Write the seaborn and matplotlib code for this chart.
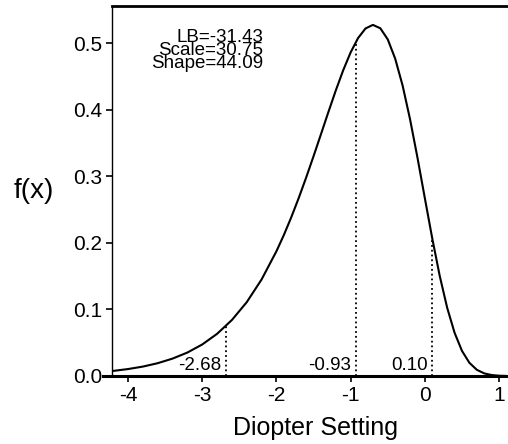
import matplotlib
matplotlib.use("Agg")
import matplotlib.pyplot as plt
import seaborn as sns
import pandas as pd

# curve values (diopter setting vs density)
diopter = [-4.2, -4.0, -3.8, -3.6, -3.4, -3.2, -3.0, -2.8, -2.6, -2.4,
           -2.2, -2.0, -1.9, -1.8, -1.7, -1.6, -1.5, -1.4, -1.3, -1.2,
           -1.1, -1.0, -0.9, -0.8, -0.7, -0.6, -0.5, -0.4, -0.3, -0.2,
           -0.1, 0.0, 0.1, 0.2, 0.3, 0.4, 0.5, 0.6, 0.7, 0.8,
           0.9, 1.0, 1.1]
density = [0.0076, 0.0104, 0.0141, 0.0192, 0.0261, 0.0352, 0.0473, 0.0633, 0.0841, 0.1109,
           0.1450, 0.1874, 0.2118, 0.2385, 0.2673, 0.2980, 0.3302, 0.3633, 0.3966, 0.4291,
           0.4595, 0.4863, 0.5078, 0.5222, 0.5276, 0.5225, 0.5058, 0.4769, 0.4365, 0.3860,
           0.3283, 0.2670, 0.2064, 0.1505, 0.1027, 0.0650, 0.0377, 0.0198, 0.0093, 0.0039,
           0.0014, 0.0004, 0.0001]

# marked percentiles
marker_x = [-2.68, -0.93, 0.10]
marker_f = [0.075, 0.500, 0.206]
marker_labels = ["-2.68", "-0.93", "0.10"]

param_lines = ["LB=-31.43", "Scale=30.75", "Shape=44.09"]

x_ticks = [-4, -3, -2, -1, 0, 1]
y_ticks = [0.0, 0.1, 0.2, 0.3, 0.4, 0.5]

sns.set_style("ticks")
plt.rcParams['font.family'] = ['Liberation Sans', 'DejaVu Sans']
plt.rcParams['axes.unicode_minus'] = False
for key in ['text.color', 'axes.labelcolor', 'xtick.color', 'ytick.color']:
    plt.rcParams[key] = 'black'

df = pd.DataFrame({'x': diopter, 'f': density})

fig = plt.figure(figsize=(5.08, 4.44), dpi=100)
ax = fig.add_axes([0.2205, 0.1532, 0.7795, 0.8333])

sns.lineplot(data=df, x='x', y='f', ax=ax, color='black', lw=1.5, estimator=None)
ax.vlines(marker_x, 0, marker_f, colors='black', linestyles=':', lw=1.3)

for mx, lab in zip(marker_x, marker_labels):
    ax.annotate(lab, xy=(mx, 0), xytext=(-3.5, 4.3), textcoords='offset points',
                ha='right', va='baseline', fontsize=13.5)

# parameter block, lines packed tightly as in the original
ax.text(-2.18, 0.521, "\n".join(param_lines), ha='right', va='top',
        multialignment='right', fontsize=13.5, linespacing=0.68)

ax.set_xlim(-4.215, 1.12)
ax.set_ylim(0, 0.556)
ax.set_xticks(x_ticks)
ax.set_yticks(y_ticks)
ax.set_xticklabels([str(t) for t in x_ticks])
ax.set_yticklabels([f"{t:.1f}" for t in y_ticks])
ax.tick_params(axis='both', direction='out', length=4, width=1.2, labelsize=15, pad=3)

ax.set_xlabel("Diopter Setting", fontsize=18)
ax.set_ylabel("f(x)", fontsize=20, rotation=0, ha='center', va='center')
ax.xaxis.set_label_coords(0.515, -0.108)
ax.yaxis.set_label_coords(-0.197, 0.5)

ax.spines['right'].set_visible(False)
ax.spines['left'].set_linewidth(1.0)
ax.spines['bottom'].set_linewidth(2.2)
ax.spines['top'].set_linewidth(2.0)
ax.spines['bottom'].set_bounds(-4.336, 1.12)
for s in ['left', 'bottom', 'top']:
    ax.spines[s].set_color('black')

fig.savefig("out.png", dpi=100)
